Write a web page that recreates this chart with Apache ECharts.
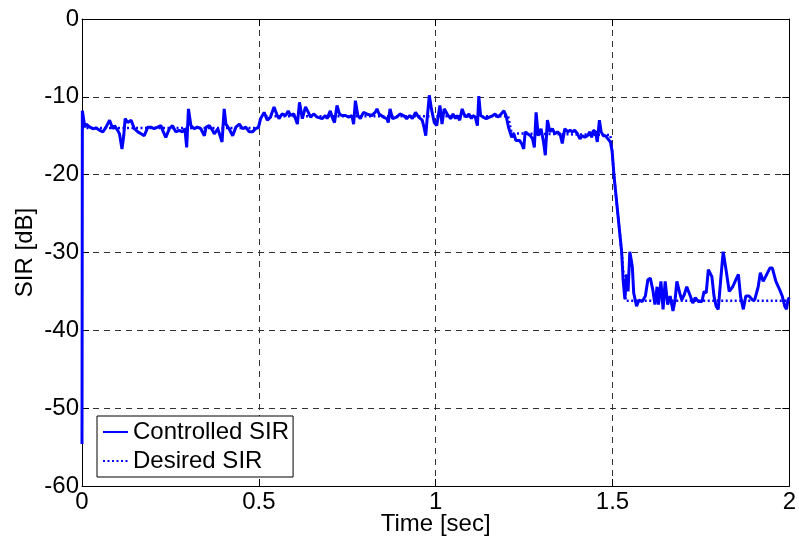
<!DOCTYPE html>
<html>
<head>
<meta charset="utf-8">
<script src="https://cdn.jsdelivr.net/npm/echarts@6/dist/echarts.min.js"></script>
<style>
  html, body { margin: 0; padding: 0; background: #fff; }
  #main { width: 799px; height: 543px; }
</style>
</head>
<body>
<div id="main"></div>
<script>
// 数据：时间 [sec]，SIR [dB]
const xTicks = [0, 0.5, 1, 1.5, 2]
const yTicks = [-60, -50, -40, -30, -20, -10, 0]

// Controlled SIR （实线）
const controlledSIR = [
  [0, -54.6], [0.001, -11.8], [0.008, -13.9], [0.012, -13.5], [0.022, -13.9], [0.031, -14.1],
  [0.040, -14.0], [0.050, -14.3], [0.059, -14.5], [0.068, -13.9], [0.078, -13.0], [0.087, -14.1],
  [0.092, -13.7], [0.101, -14.3], [0.106, -14.75], [0.113, -16.7], [0.118, -15.0], [0.122, -12.8],
  [0.129, -13.3], [0.139, -13.0], [0.148, -14.1], [0.158, -14.5], [0.167, -14.75], [0.176, -15.0],
  [0.186, -13.9], [0.195, -13.9], [0.204, -14.1], [0.214, -13.9], [0.223, -13.7], [0.228, -14.3],
  [0.237, -15.2], [0.247, -14.1], [0.256, -13.7], [0.265, -14.5], [0.275, -14.3], [0.284, -14.5],
  [0.291, -14.1], [0.296, -16.5], [0.301, -11.55], [0.308, -13.7], [0.317, -14.1], [0.326, -13.9],
  [0.336, -14.1], [0.346, -15.0], [0.351, -13.9], [0.360, -13.7], [0.369, -14.3], [0.374, -14.75],
  [0.384, -14.1], [0.388, -13.9], [0.396, -15.8], [0.402, -11.55], [0.407, -13.5], [0.416, -14.1],
  [0.426, -15.0], [0.435, -13.9], [0.445, -13.5], [0.454, -14.1], [0.463, -13.9], [0.473, -14.5],
  [0.482, -14.5], [0.491, -14.1], [0.499, -13.9], [0.505, -12.8], [0.515, -12.0], [0.524, -13.0],
  [0.533, -12.6], [0.543, -11.3], [0.552, -12.4], [0.557, -12.8], [0.566, -12.2], [0.576, -12.4],
  [0.583, -11.8], [0.590, -12.4], [0.599, -12.2], [0.609, -13.5], [0.615, -10.7], [0.623, -12.8],
  [0.632, -11.3], [0.640, -12.0], [0.646, -12.6], [0.655, -12.2], [0.665, -12.6], [0.679, -12.8],
  [0.688, -12.4], [0.693, -12.8], [0.702, -11.8], [0.709, -12.8], [0.714, -13.3], [0.721, -11.1],
  [0.728, -12.2], [0.735, -12.4], [0.745, -12.4], [0.754, -12.6], [0.763, -12.4], [0.768, -13.5],
  [0.773, -10.5], [0.780, -12.4], [0.787, -12.8], [0.796, -12.0], [0.805, -12.2], [0.810, -12.0],
  [0.819, -12.4], [0.829, -12.0], [0.834, -11.55], [0.840, -12.2], [0.852, -12.6], [0.862, -12.8],
  [0.866, -13.3], [0.871, -11.55], [0.878, -12.8], [0.890, -12.6], [0.899, -12.2], [0.909, -12.4],
  [0.918, -12.8], [0.927, -12.4], [0.934, -12.8], [0.943, -12.0], [0.952, -12.6], [0.962, -13.0],
  [0.967, -13.9], [0.972, -15.0], [0.976, -12.8], [0.982, -9.8], [0.988, -11.55], [0.996, -13.3],
  [1.003, -13.7], [1.012, -11.1], [1.018, -13.5], [1.024, -11.55], [1.030, -12.0], [1.035, -12.4],
  [1.043, -12.8], [1.049, -12.2], [1.056, -12.8], [1.061, -12.4], [1.068, -13.0], [1.075, -11.55],
  [1.080, -12.2], [1.087, -12.6], [1.094, -12.2], [1.101, -12.8], [1.105, -12.4], [1.112, -12.6],
  [1.118, -13.7], [1.122, -9.9], [1.127, -12.4], [1.134, -12.6], [1.143, -12.8], [1.152, -12.6],
  [1.162, -12.4], [1.168, -12.2], [1.176, -12.6], [1.185, -12.2], [1.193, -11.8], [1.199, -12.4],
  [1.206, -13.9], [1.215, -15.2], [1.221, -14.75], [1.227, -15.6], [1.237, -15.6], [1.243, -16.0],
  [1.249, -16.7], [1.253, -14.5], [1.260, -14.75], [1.268, -15.0], [1.274, -15.4], [1.279, -16.5],
  [1.284, -12.0], [1.290, -15.0], [1.298, -14.1], [1.305, -15.8], [1.310, -17.5], [1.316, -13.0],
  [1.323, -14.5], [1.330, -14.1], [1.337, -14.75], [1.344, -14.5], [1.352, -14.8], [1.358, -16.0],
  [1.365, -14.1], [1.373, -14.5], [1.380, -14.3], [1.387, -14.5], [1.393, -14.3], [1.401, -14.75],
  [1.408, -15.4], [1.415, -15.0], [1.422, -15.2], [1.429, -15.0], [1.436, -14.5], [1.441, -15.2],
  [1.446, -14.3], [1.452, -14.5], [1.457, -15.8], [1.463, -13.0], [1.468, -14.5], [1.474, -15.0],
  [1.480, -15.0], [1.487, -15.4], [1.494, -15.8], [1.499, -17.0], [1.504, -20.0], [1.526, -30.0],
  [1.530, -33.5], [1.535, -36.0], [1.540, -32.8], [1.544, -35.0], [1.549, -29.9], [1.556, -31.8],
  [1.560, -35.2], [1.568, -36.9], [1.575, -36.1], [1.584, -36.3], [1.593, -35.6], [1.600, -33.5],
  [1.607, -33.3], [1.614, -34.8], [1.620, -36.7], [1.626, -34.4], [1.630, -36.7], [1.637, -33.7],
  [1.643, -37.3], [1.649, -33.7], [1.656, -36.7], [1.663, -35.6], [1.671, -37.5], [1.677, -36.1],
  [1.682, -33.7], [1.690, -35.2], [1.696, -36.1], [1.703, -35.4], [1.710, -34.4], [1.720, -35.6],
  [1.727, -36.5], [1.734, -35.8], [1.743, -36.3], [1.753, -36.3], [1.759, -35.0], [1.765, -35.2],
  [1.771, -32.2], [1.781, -33.1], [1.787, -35.6], [1.793, -36.9], [1.799, -37.3], [1.806, -33.5],
  [1.813, -29.9], [1.821, -32.2], [1.830, -35.0], [1.840, -34.4], [1.849, -33.5], [1.856, -32.8],
  [1.862, -35.6], [1.870, -37.3], [1.877, -35.6], [1.886, -35.6], [1.896, -36.1], [1.902, -36.1],
  [1.912, -34.4], [1.918, -32.6], [1.926, -33.7], [1.933, -33.1], [1.945, -32.0], [1.952, -32.0],
  [1.962, -33.7], [1.971, -34.6], [1.980, -35.6], [1.987, -36.9], [1.992, -37.3], [1.996, -36.1],
  [2.0, -35.8]
]

// Desired SIR （点线）
const desiredSIR = [
  [0, -14.0], [0.5, -14.0], [0.505, -12.5], [1.205, -12.5], [1.215, -14.7],
  [1.494, -14.9], [1.499, -17.0], [1.504, -20.0], [1.526, -30.0], [1.537, -36.2], [2.0, -36.2]
]

const FONT = 'Liberation Sans, Arial, sans-serif'
const FS = 24
const axisBase = {
  type: 'value',
  axisLine: { show: true, onZero: false, lineStyle: { color: '#000', width: 1 } },
  axisTick: { show: true, inside: true, length: 7, lineStyle: { color: '#000' } },
}
const gridLine = { show: true, lineStyle: { color: '#333', width: 1, type: [6, 5] } }

var myChart = echarts.init(document.getElementById('main'))
var option = {
  animation: false,
  backgroundColor: '#fff',
  grid: { left: 82, right: 6, top: 19, bottom: 57, containLabel: false },
  legend: {
    orient: 'vertical',
    left: 97,
    top: 416,
    backgroundColor: '#fff',
    borderColor: '#000',
    borderWidth: 1,
    borderRadius: 0,
    padding: [3, 4, 3, 5],
    itemWidth: 25,
    itemHeight: 14,
    itemGap: 3,
    // 图例里不要圆点标记
    itemStyle: { opacity: 0, borderWidth: 0 },
    textStyle: { fontFamily: FONT, fontSize: FS, lineHeight: 26, color: '#000' },
    data: ['Controlled SIR', 'Desired SIR'],
  },
  xAxis: [
    Object.assign({}, axisBase, {
      position: 'bottom',
      min: xTicks[0], max: xTicks[xTicks.length - 1], interval: 0.5,
      name: 'Time [sec]', nameLocation: 'middle', nameGap: 26, nameMoveOverlap: false,
      nameTextStyle: { fontFamily: FONT, fontSize: FS, color: '#000' },
      axisLabel: { fontFamily: FONT, fontSize: FS, color: '#000', margin: 4 },
      splitLine: gridLine,
    }),
    Object.assign({}, axisBase, {
      position: 'top',
      min: xTicks[0], max: xTicks[xTicks.length - 1], interval: 0.5,
      axisLabel: { show: false },
      splitLine: { show: false },
    }),
  ],
  yAxis: [
    Object.assign({}, axisBase, {
      position: 'left',
      min: yTicks[0], max: yTicks[yTicks.length - 1], interval: 10,
      name: 'SIR [dB]', nameLocation: 'middle', nameGap: 45, nameMoveOverlap: false,
      nameTextStyle: { fontFamily: FONT, fontSize: FS, color: '#000' },
      axisLabel: { fontFamily: FONT, fontSize: FS, color: '#000', margin: 3 },
      splitLine: gridLine,
    }),
    Object.assign({}, axisBase, {
      position: 'right',
      min: yTicks[0], max: yTicks[yTicks.length - 1], interval: 10,
      axisLabel: { show: false },
      splitLine: { show: false },
    }),
  ],
  series: [
    {
      name: 'Controlled SIR',
      type: 'line',
      data: controlledSIR,
      symbol: 'none',
      z: 4,
      lineStyle: { color: '#0000ff', width: 3, type: 'solid' },
      itemStyle: { color: '#0000ff' },
    },
    {
      name: 'Desired SIR',
      type: 'line',
      data: desiredSIR,
      symbol: 'none',
      z: 3,
      lineStyle: { color: '#0000ff', width: 2.5, type: [2, 2.5] },
      itemStyle: { color: '#0000ff' },
    },
  ],
}
myChart.setOption(option)
</script>
</body>
</html>
